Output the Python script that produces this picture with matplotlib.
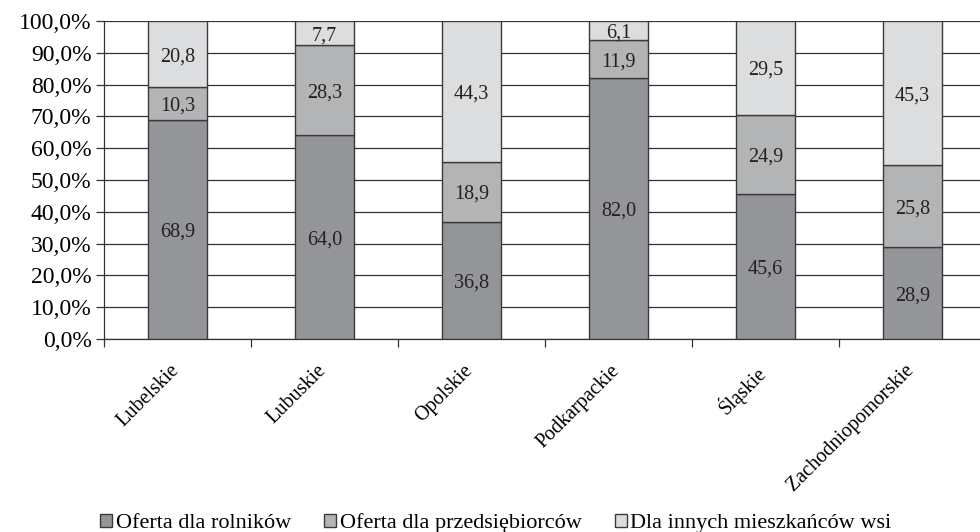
import matplotlib
matplotlib.use("Agg")
import matplotlib.pyplot as plt
import numpy as np
from matplotlib.ticker import FixedLocator
from matplotlib.font_manager import FontProperties
from matplotlib.transforms import ScaledTranslation

categories = ["Lubelskie", "Lubuskie", "Opolskie", "Podkarpackie", "Śląskie", "Zachodniopomorskie"]
rolnicy = [68.9, 64.0, 36.8, 82.0, 45.6, 28.9]
przedsiebiorcy = [10.3, 28.3, 18.9, 11.9, 24.9, 25.8]
inni = [20.8, 7.7, 44.3, 6.1, 29.5, 45.3]
series_names = ["Oferta dla rolników", "Oferta dla przedsiębiorców", "Dla innych mieszkańców wsi"]
colors = ["#939598", "#b3b4b6", "#dcdddf"]

FAM = "Liberation Serif"
plt.rcParams['font.family'] = [FAM, 'DejaVu Serif']

fig = plt.figure(figsize=(9.8, 5.32), dpi=100)
ax = fig.add_axes([104/980, (532-339)/532, 882/980, 318/532])

x = np.arange(len(categories))
bottom = np.zeros(len(categories))
for vals, col, name in zip([rolnicy, przedsiebiorcy, inni], colors, series_names):
    vals = np.array(vals)
    ax.bar(x, vals, 0.4, bottom=bottom, color=col, edgecolor="#3a3a3a", linewidth=1.0, label=name, zorder=3)
    for xi, b, v in zip(x, bottom, vals):
        ax.text(xi, b + v/2 - 0.8, f"{v:.1f}".replace(".", ","), ha="center", va="center",
                fontsize=14.5, color="#222222", zorder=4, family=FAM)
    bottom += vals

ax.set_xlim(-0.5, 5.5)
ax.set_ylim(0, 100)
yt = np.arange(0, 101, 10)
ax.set_yticks(yt)
ax.set_yticklabels([f"{v:.1f}%".replace(".", ",") for v in yt], family=FAM, fontsize=17)
ax.yaxis.grid(True, color="#333333", linewidth=0.9, zorder=0)
ax.set_axisbelow(True)
ax.tick_params(axis="y", length=6, width=0.9, color="#333333", pad=3)

ax.set_xticks(x)
ax.set_xticklabels(categories, rotation=45, ha="right", va="top", fontsize=14.5, family=FAM)
ax.tick_params(axis="x", which="major", length=0, pad=16)
shift = ScaledTranslation(4/72, 0, fig.dpi_scale_trans)
for lab in ax.get_xticklabels():
    lab.set_transform(lab.get_transform() + shift)
ax.xaxis.set_minor_locator(FixedLocator(np.arange(-0.5, 6.0, 1.0)))
ax.tick_params(axis="x", which="minor", length=6, width=0.9, color="#333333")

for s in ["top", "right"]:
    ax.spines[s].set_visible(False)
for s in ["left", "bottom"]:
    ax.spines[s].set_color("#333333")
    ax.spines[s].set_linewidth(0.9)

leg = fig.legend(loc="lower center", bbox_to_anchor=(0.506, -0.04), ncol=3, frameon=False,
                 prop=FontProperties(family=FAM, size=16),
                 handlelength=0.55, handleheight=0.55, handletextpad=0.15,
                 columnspacing=1.5)

fig.savefig("out.png", dpi=100)
